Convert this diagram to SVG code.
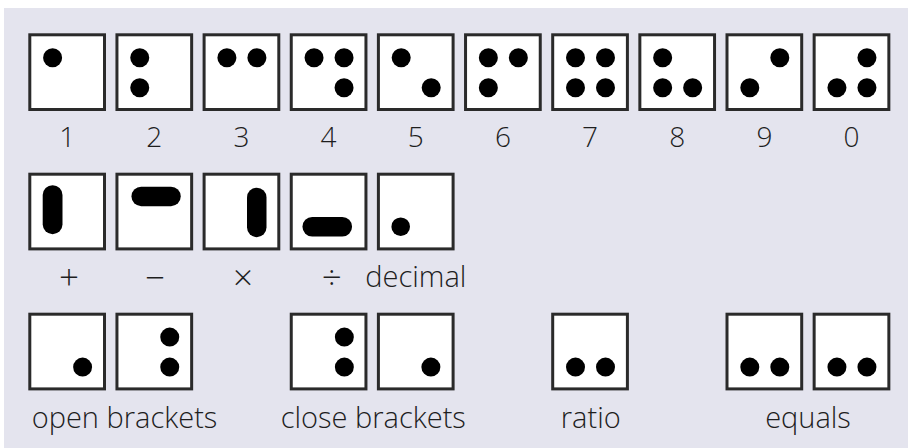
<svg xmlns="http://www.w3.org/2000/svg" width="908" height="448" viewBox="0 0 908 448">
<defs>
<style>
.bg{fill:#e4e4ee}
.box{fill:#fff;stroke:#2a2a2a;stroke-width:3}
.dot{fill:#000}
.lbl{font-family:"Open Sans","Noto Sans","Liberation Sans",sans-serif;font-size:28px;font-weight:300;fill:#1e1e1e;text-anchor:middle}
.word{font-size:29px}
.op{font-size:35px}
</style>
<rect id="cell" class="box" x="1.5" y="1.5" width="74.7" height="74.7"/>
</defs>
<rect class="bg" x="4" y="8" width="904" height="440"/>
<g id="connectors"/>

<!-- Row 1: digits -->
<g id="d1" transform="translate(28.3,33.3)"><use href="#cell"/><circle class="dot" cx="24.3" cy="24.4" r="9.5"/></g>
<g id="d2" transform="translate(115.45,33.3)"><use href="#cell"/><circle class="dot" cx="24.3" cy="24.4" r="9.5"/><circle class="dot" cx="24.3" cy="54.4" r="9.5"/></g>
<g id="d3" transform="translate(202.6,33.3)"><use href="#cell"/><circle class="dot" cx="24.3" cy="24.4" r="9.5"/><circle class="dot" cx="54.3" cy="24.4" r="9.5"/></g>
<g id="d4" transform="translate(289.75,33.3)"><use href="#cell"/><circle class="dot" cx="24.3" cy="24.4" r="9.5"/><circle class="dot" cx="54.3" cy="24.4" r="9.5"/><circle class="dot" cx="54.3" cy="54.4" r="9.5"/></g>
<g id="d5" transform="translate(376.9,33.3)"><use href="#cell"/><circle class="dot" cx="24.3" cy="24.4" r="9.5"/><circle class="dot" cx="54.3" cy="54.4" r="9.5"/></g>
<g id="d6" transform="translate(464.05,33.3)"><use href="#cell"/><circle class="dot" cx="24.3" cy="24.4" r="9.5"/><circle class="dot" cx="54.3" cy="24.4" r="9.5"/><circle class="dot" cx="24.3" cy="54.4" r="9.5"/></g>
<g id="d7" transform="translate(551.2,33.3)"><use href="#cell"/><circle class="dot" cx="24.3" cy="24.4" r="9.5"/><circle class="dot" cx="54.3" cy="24.4" r="9.5"/><circle class="dot" cx="24.3" cy="54.4" r="9.5"/><circle class="dot" cx="54.3" cy="54.4" r="9.5"/></g>
<g id="d8" transform="translate(638.35,33.3)"><use href="#cell"/><circle class="dot" cx="24.3" cy="24.4" r="9.5"/><circle class="dot" cx="24.3" cy="54.4" r="9.5"/><circle class="dot" cx="54.3" cy="54.4" r="9.5"/></g>
<g id="d9" transform="translate(725.5,33.3)"><use href="#cell"/><circle class="dot" cx="54.3" cy="24.4" r="9.5"/><circle class="dot" cx="24.3" cy="54.4" r="9.5"/></g>
<g id="d0" transform="translate(812.65,33.3)"><use href="#cell"/><circle class="dot" cx="54.3" cy="24.4" r="9.5"/><circle class="dot" cx="24.3" cy="54.4" r="9.5"/><circle class="dot" cx="54.3" cy="54.4" r="9.5"/></g>

<g id="digit-labels">
<text class="lbl" x="67.2" y="146.5">1</text>
<text class="lbl" x="154.3" y="146.5">2</text>
<text class="lbl" x="241.5" y="146.5">3</text>
<text class="lbl" x="328.6" y="146.5">4</text>
<text class="lbl" x="415.8" y="146.5">5</text>
<text class="lbl" x="502.9" y="146.5">6</text>
<text class="lbl" x="590.1" y="146.5">7</text>
<text class="lbl" x="677.2" y="146.5">8</text>
<text class="lbl" x="764.4" y="146.5">9</text>
<text class="lbl" x="851.5" y="146.5">0</text>
</g>

<!-- Row 2: operators -->
<g id="plus" transform="translate(28.3,172.7)"><use href="#cell"/><rect class="dot" x="14.4" y="12.5" width="19.8" height="49" rx="9.9"/></g>
<g id="minus" transform="translate(115.45,172.7)"><use href="#cell"/><rect class="dot" x="16" y="14" width="49.3" height="19.5" rx="9.75"/></g>
<g id="times" transform="translate(202.6,172.7)"><use href="#cell"/><rect class="dot" x="44.4" y="15" width="19.5" height="49.5" rx="9.75"/></g>
<g id="divide" transform="translate(289.75,172.7)"><use href="#cell"/><rect class="dot" x="12.7" y="44.3" width="49.6" height="19.5" rx="9.75"/></g>
<g id="decimal" transform="translate(376.9,172.7)"><use href="#cell"/><circle class="dot" cx="23.8" cy="54" r="9.3"/></g>

<g id="operator-labels">
<text class="lbl op" x="69" y="290">+</text>
<text class="lbl op" x="155" y="290">−</text>
<text class="lbl op" x="243" y="290">×</text>
<text class="lbl op" x="331.7" y="290">÷</text>
<text class="lbl word" x="415.8" y="287">decimal</text>
</g>

<!-- Row 3 -->
<g id="open-brackets">
<g transform="translate(28.3,312.7)"><use href="#cell"/><circle class="dot" cx="54.3" cy="54.4" r="9.5"/></g>
<g transform="translate(115.45,312.7)"><use href="#cell"/><circle class="dot" cx="54.3" cy="24.4" r="9.5"/><circle class="dot" cx="54.3" cy="54.4" r="9.5"/></g>
<text class="lbl word" x="124.5" y="428">open brackets</text>
</g>
<g id="close-brackets">
<g transform="translate(289.75,312.7)"><use href="#cell"/><circle class="dot" cx="54.6" cy="24.4" r="9.5"/><circle class="dot" cx="54.6" cy="54.4" r="9.5"/></g>
<g transform="translate(376.9,312.7)"><use href="#cell"/><circle class="dot" cx="54" cy="54.4" r="9.5"/></g>
<text class="lbl word" x="373.3" y="428">close brackets</text>
</g>
<g id="ratio">
<g transform="translate(551.2,312.7)"><use href="#cell"/><circle class="dot" cx="24.3" cy="54.4" r="9.5"/><circle class="dot" cx="54.3" cy="54.4" r="9.5"/></g>
<text class="lbl word" x="590.8" y="428">ratio</text>
</g>
<g id="equals">
<g transform="translate(725.5,312.7)"><use href="#cell"/><circle class="dot" cx="24.3" cy="54.4" r="9.5"/><circle class="dot" cx="54.3" cy="54.4" r="9.5"/></g>
<g transform="translate(812.65,312.7)"><use href="#cell"/><circle class="dot" cx="24.3" cy="54.4" r="9.5"/><circle class="dot" cx="54.3" cy="54.4" r="9.5"/></g>
<text class="lbl word" x="808" y="428">equals</text>
</g>
</svg>
